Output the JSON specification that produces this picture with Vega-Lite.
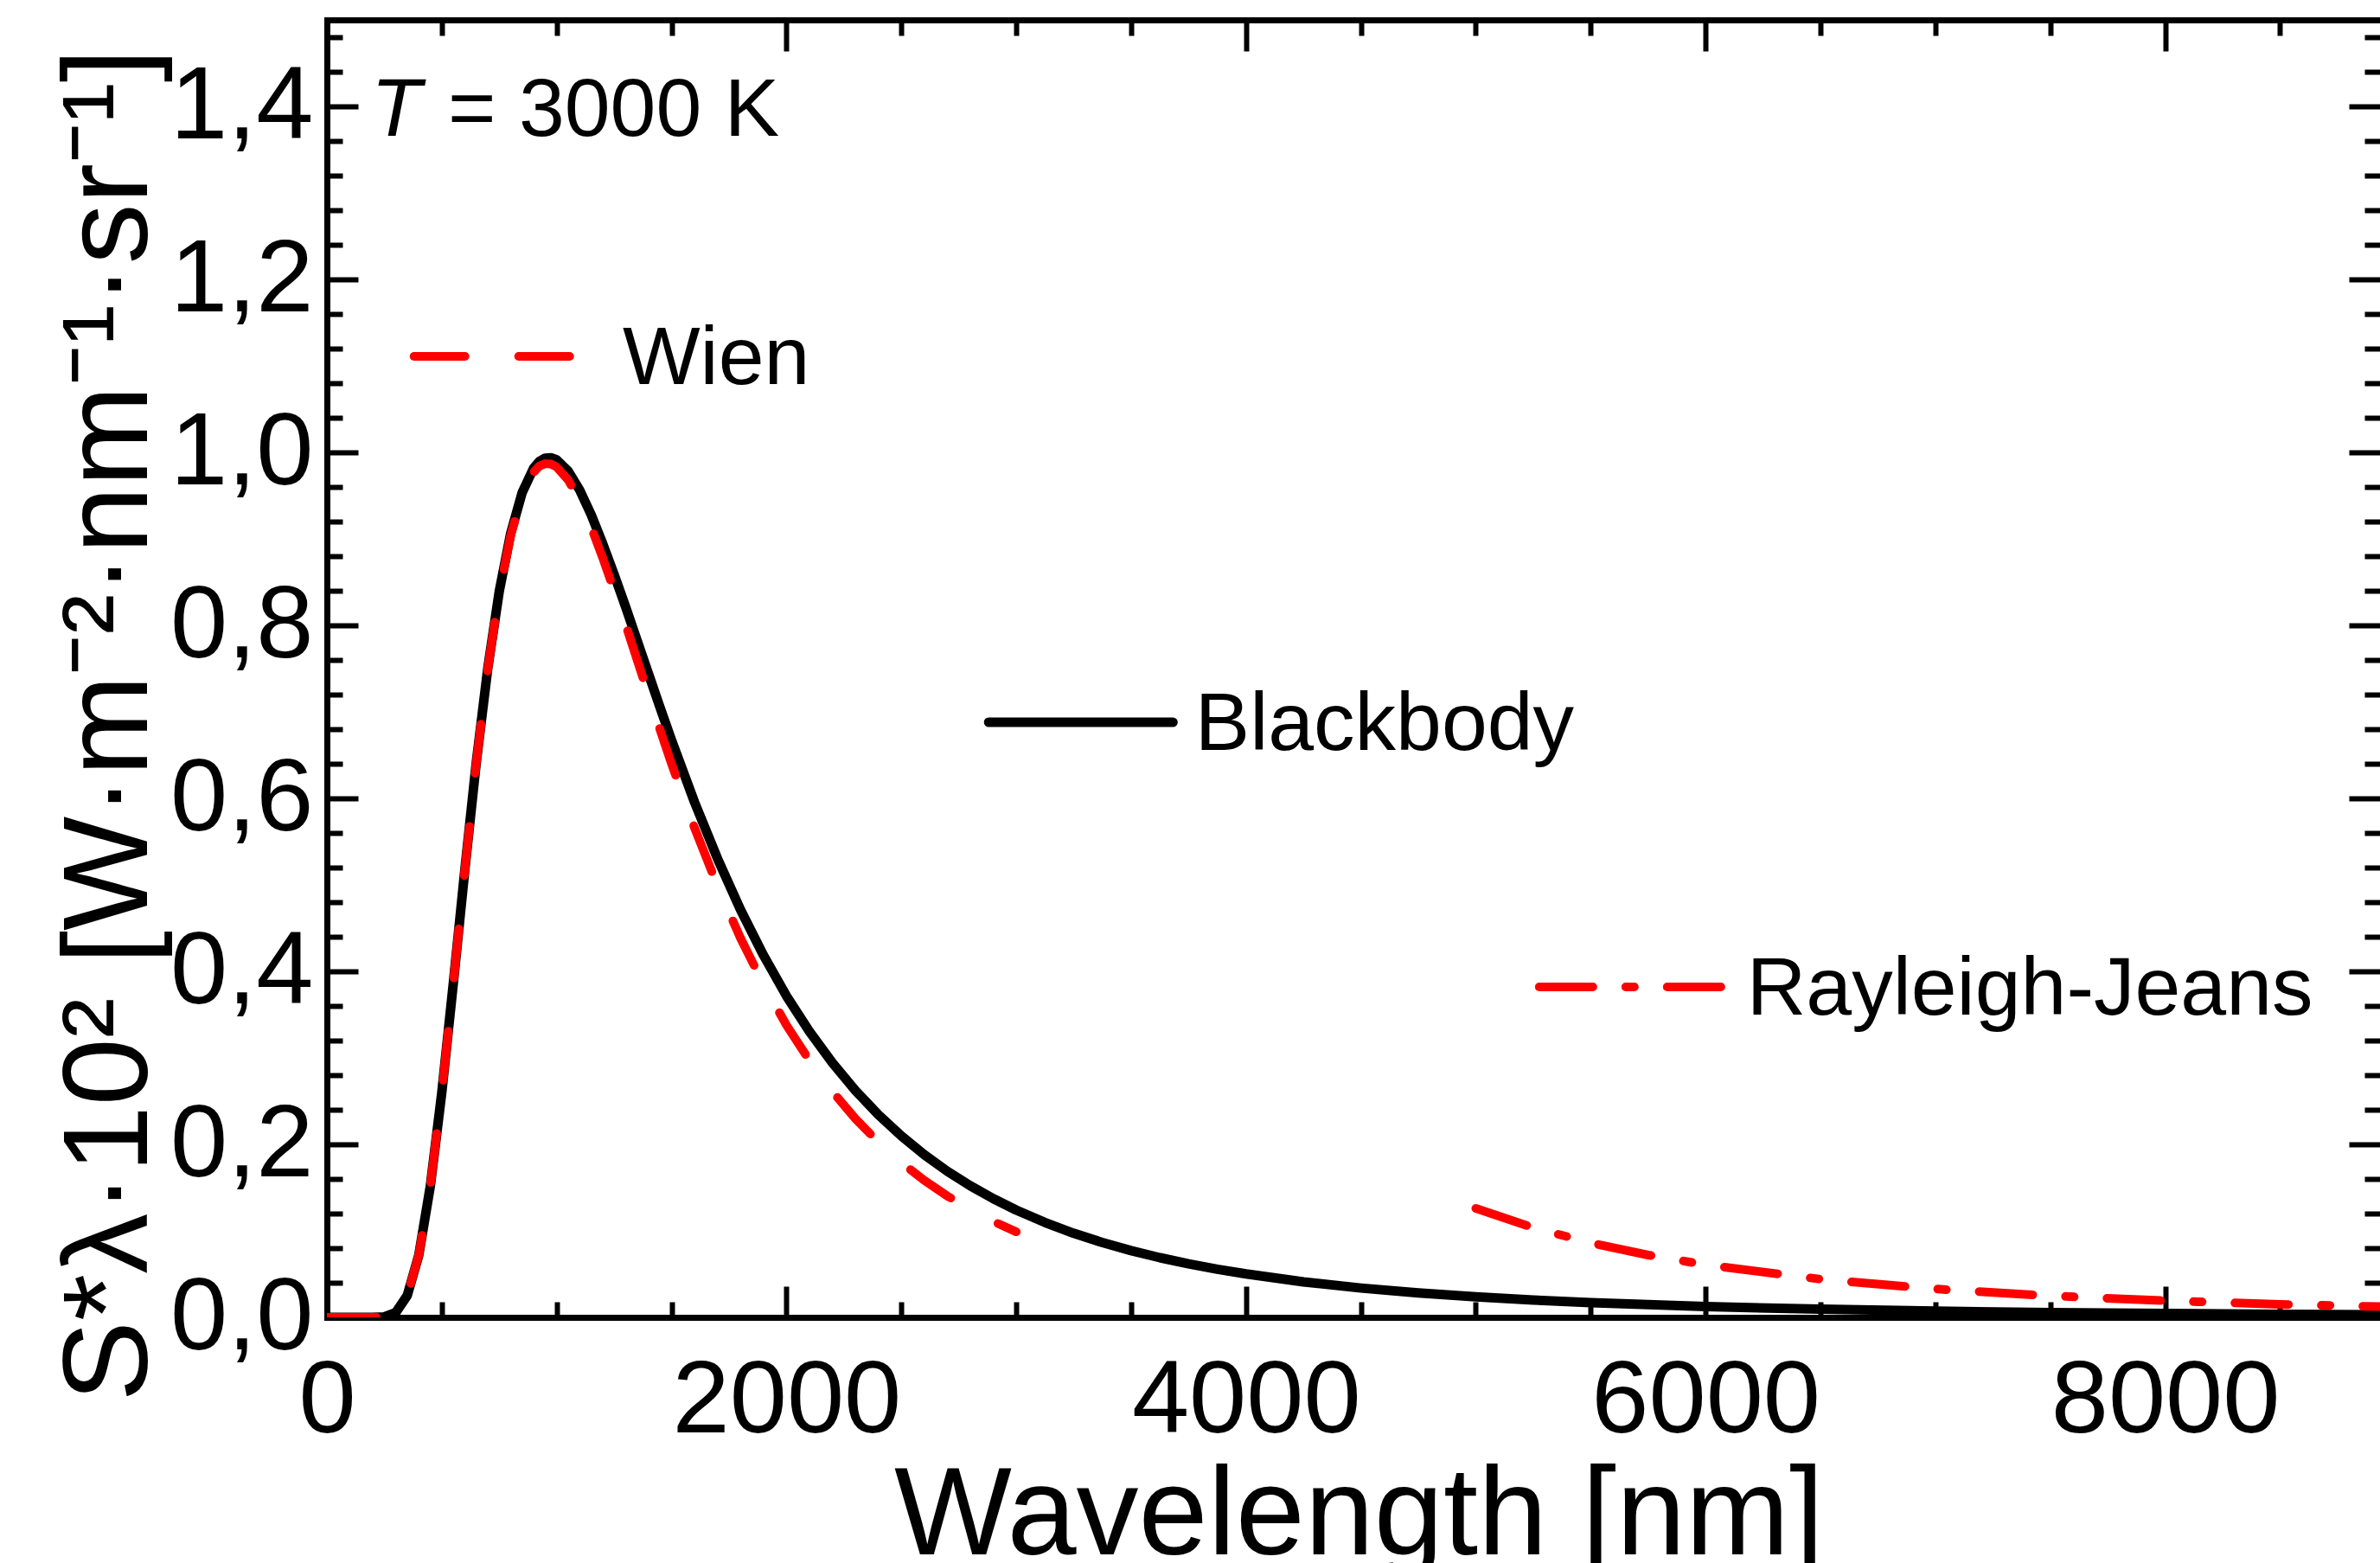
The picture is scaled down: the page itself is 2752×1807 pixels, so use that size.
{
  "$schema": "https://vega.github.io/schema/vega-lite/v6.json",
  "width": 2374,
  "height": 1500,
  "autosize": {"type": "none"},
  "padding": {"left": 378, "top": 23, "right": 0, "bottom": 284},
  "background": "white",
  "config": {
    "view": {"stroke": null},
    "font": "Liberation Sans",
    "axis": {
      "grid": false,
      "labelFont": "Liberation Sans",
      "titleFont": "Liberation Sans",
      "labelColor": "black",
      "titleColor": "black",
      "tickColor": "black",
      "domainColor": "black",
      "labelFlush": false,
      "labelOverlap": false,
      "labelLimit": 1000,
      "titleLimit": 3000,
      "tickWidth": 6,
      "domainWidth": 7,
      "domainCap": "square",
      "titleFontWeight": "normal",
      "labelFontSize": 119
    }
  },
  "datasets": {
    "bb": [
      {"wl": 0, "s": 0}, {"wl": 100, "s": 0}, {"wl": 200, "s": 0}, {"wl": 250, "s": 0.0006},
      {"wl": 300, "s": 0.0056}, {"wl": 350, "s": 0.0254}, {"wl": 400, "s": 0.0721}, {"wl": 450, "s": 0.1517},
      {"wl": 500, "s": 0.2599}, {"wl": 550, "s": 0.3859}, {"wl": 600, "s": 0.5167}, {"wl": 650, "s": 0.6414},
      {"wl": 700, "s": 0.7502}, {"wl": 750, "s": 0.8392}, {"wl": 800, "s": 0.9066}, {"wl": 850, "s": 0.9537},
      {"wl": 900, "s": 0.982}, {"wl": 925, "s": 0.9897}, {"wl": 950, "s": 0.9933}, {"wl": 975, "s": 0.9938},
      {"wl": 1000, "s": 0.9913}, {"wl": 1050, "s": 0.9783}, {"wl": 1100, "s": 0.9565}, {"wl": 1150, "s": 0.928},
      {"wl": 1200, "s": 0.8946}, {"wl": 1250, "s": 0.8589}, {"wl": 1300, "s": 0.8214}, {"wl": 1350, "s": 0.7825},
      {"wl": 1400, "s": 0.7436}, {"wl": 1450, "s": 0.705}, {"wl": 1500, "s": 0.6672}, {"wl": 1600, "s": 0.5955},
      {"wl": 1700, "s": 0.5303}, {"wl": 1800, "s": 0.4712}, {"wl": 1900, "s": 0.4186}, {"wl": 2000, "s": 0.3716},
      {"wl": 2100, "s": 0.3306}, {"wl": 2200, "s": 0.2942}, {"wl": 2300, "s": 0.2623}, {"wl": 2400, "s": 0.2343},
      {"wl": 2500, "s": 0.2097}, {"wl": 2600, "s": 0.188}, {"wl": 2700, "s": 0.1689}, {"wl": 2800, "s": 0.1521},
      {"wl": 2900, "s": 0.1372}, {"wl": 3000, "s": 0.124}, {"wl": 3125, "s": 0.1097}, {"wl": 3250, "s": 0.0972},
      {"wl": 3375, "s": 0.0865}, {"wl": 3500, "s": 0.0771}, {"wl": 3625, "s": 0.069}, {"wl": 3750, "s": 0.0619},
      {"wl": 3875, "s": 0.0556}, {"wl": 4000, "s": 0.0502}, {"wl": 4250, "s": 0.041}, {"wl": 4500, "s": 0.0339},
      {"wl": 4750, "s": 0.0282}, {"wl": 5000, "s": 0.0237}, {"wl": 5250, "s": 0.02}, {"wl": 5500, "s": 0.017},
      {"wl": 6000, "s": 0.0125}, {"wl": 6500, "s": 0.0094}, {"wl": 7000, "s": 0.0072}, {"wl": 7500, "s": 0.0056},
      {"wl": 8000, "s": 0.0044}, {"wl": 8500, "s": 0.0035}, {"wl": 9000, "s": 0.0029}
    ],
    "wien": [
      {"wl": 0, "s": 0}, {"wl": 100, "s": 0}, {"wl": 200, "s": 0}, {"wl": 250, "s": 0.0006},
      {"wl": 300, "s": 0.0056}, {"wl": 350, "s": 0.0254}, {"wl": 400, "s": 0.0721}, {"wl": 450, "s": 0.1517},
      {"wl": 500, "s": 0.2599}, {"wl": 550, "s": 0.3858}, {"wl": 600, "s": 0.5166}, {"wl": 650, "s": 0.641},
      {"wl": 700, "s": 0.7494}, {"wl": 750, "s": 0.8378}, {"wl": 800, "s": 0.9043}, {"wl": 850, "s": 0.9503},
      {"wl": 900, "s": 0.9772}, {"wl": 925, "s": 0.9842}, {"wl": 950, "s": 0.9869}, {"wl": 975, "s": 0.9865},
      {"wl": 1000, "s": 0.9831}, {"wl": 1050, "s": 0.9681}, {"wl": 1100, "s": 0.9443}, {"wl": 1150, "s": 0.9137},
      {"wl": 1200, "s": 0.8782}, {"wl": 1250, "s": 0.8404}, {"wl": 1300, "s": 0.8009}, {"wl": 1350, "s": 0.7601},
      {"wl": 1400, "s": 0.7194}, {"wl": 1450, "s": 0.6792}, {"wl": 1500, "s": 0.6399}, {"wl": 1600, "s": 0.5658},
      {"wl": 1700, "s": 0.4987}, {"wl": 1800, "s": 0.4384}, {"wl": 1900, "s": 0.3851}, {"wl": 2000, "s": 0.3378},
      {"wl": 2100, "s": 0.2969}, {"wl": 2200, "s": 0.261}, {"wl": 2300, "s": 0.2297}, {"wl": 2400, "s": 0.2025},
      {"wl": 2500, "s": 0.1789}, {"wl": 2600, "s": 0.1583}, {"wl": 2700, "s": 0.1403}, {"wl": 2800, "s": 0.1247},
      {"wl": 2900, "s": 0.111}, {"wl": 3000, "s": 0.0989}
    ],
    "rj": [
      {"wl": 5000, "s": 0.126}, {"wl": 5250, "s": 0.1037}, {"wl": 5500, "s": 0.0861}, {"wl": 5750, "s": 0.072},
      {"wl": 6000, "s": 0.0608}, {"wl": 6500, "s": 0.0441}, {"wl": 7000, "s": 0.0328}, {"wl": 7500, "s": 0.0249},
      {"wl": 8000, "s": 0.0192}, {"wl": 8500, "s": 0.0151}, {"wl": 9000, "s": 0.012}
    ],
    "leg_bb": [{"wl": 2880, "s": 0.688}, {"wl": 3682, "s": 0.688}],
    "leg_wien": [{"wl": 379, "s": 1.111}, {"wl": 1059, "s": 1.111}],
    "leg_rj": [{"wl": 5276, "s": 0.382}, {"wl": 6077, "s": 0.382}],
    "labels": [
      {"wl": 527, "s": 1.366, "text": "= 3000 K"},
      {"wl": 1287, "s": 1.079, "text": "Wien"},
      {"wl": 3778, "s": 0.656, "text": "Blackbody"},
      {"wl": 6179, "s": 0.35, "text": "Rayleigh-Jeans"}
    ],
    "italic": [{"wl": 192, "s": 1.366, "text": "T"}]
  },
  "resolve": {"axis": {"x": "independent", "y": "independent"}},
  "layer": [
    {
      "data": {"name": "bb"},
      "mark": {"type": "line", "color": "black", "strokeWidth": 11, "strokeJoin": "round", "clip": true},
      "encoding": {
        "x": {
          "field": "wl", "type": "quantitative",
          "scale": {"domain": [0, 8935], "nice": false, "zero": false},
          "axis": {
            "orient": "bottom", "values": [0, 2000, 4000, 6000, 8000], "format": "d",
            "ticks": false, "domain": true, "labelPadding": 38,
            "title": "Wavelength [nm]", "titleFontSize": 144,
            "titleX": 1193, "titleY": 273, "titleBaseline": "alphabetic", "titleAlign": "center", "titleAngle": 0
          }
        },
        "y": {
          "field": "s", "type": "quantitative",
          "scale": {"domain": [0, 1.5], "nice": false, "zero": false},
          "axis": {
            "orient": "left", "values": [0, 0.2, 0.4, 0.6, 0.8, 1.0, 1.2, 1.4],
            "labelExpr": "replace(format(datum.value, '.1f'), '.', ',')",
            "ticks": false, "domain": true, "labelPadding": 16,
            "title": "S*λ·10² [W·m⁻²·nm⁻¹·sr⁻¹]", "titleFontSize": 140,
            "titleX": -209, "titleY": 815, "titleBaseline": "alphabetic", "titleAlign": "center", "titleAngle": -90
          }
        }
      }
    },
    {
      "data": {"name": "wien"},
      "mark": {"type": "line", "color": "#ff0000", "strokeWidth": 10, "strokeCap": "round", "strokeDash": [57, 62], "clip": true},
      "encoding": {
        "x": {
          "field": "wl", "type": "quantitative",
          "scale": {"domain": [0, 8935], "nice": false, "zero": false},
          "axis": {"orient": "bottom", "values": [0, 2000, 4000, 6000, 8000], "labels": false, "domain": false, "ticks": true, "tickSize": -36, "title": null}
        },
        "y": {
          "field": "s", "type": "quantitative",
          "scale": {"domain": [0, 1.5], "nice": false, "zero": false},
          "axis": {"orient": "left", "values": [0, 0.2, 0.4, 0.6, 0.8, 1.0, 1.2, 1.4], "labels": false, "domain": false, "ticks": true, "tickSize": -36, "title": null}
        }
      }
    },
    {
      "data": {"name": "rj"},
      "mark": {"type": "line", "color": "#ff0000", "strokeWidth": 10, "strokeCap": "round", "strokeDash": [62, 38, 10, 38], "clip": true},
      "encoding": {
        "x": {
          "field": "wl", "type": "quantitative",
          "scale": {"domain": [0, 8935], "nice": false, "zero": false},
          "axis": {"orient": "bottom", "values": [500, 1000, 1500, 2500, 3000, 3500, 4500, 5000, 5500, 6500, 7000, 7500, 8500], "labels": false, "domain": false, "ticks": true, "tickSize": -18, "title": null}
        },
        "y": {
          "field": "s", "type": "quantitative",
          "scale": {"domain": [0, 1.5], "nice": false, "zero": false},
          "axis": {"orient": "left", "values": [0.04, 0.08, 0.12, 0.16, 0.24, 0.28, 0.32, 0.36, 0.44, 0.48, 0.52, 0.56, 0.64, 0.68, 0.72, 0.76, 0.84, 0.88, 0.92, 0.96, 1.04, 1.08, 1.12, 1.16, 1.24, 1.28, 1.32, 1.36, 1.44, 1.48], "labels": false, "domain": false, "ticks": true, "tickSize": -18, "title": null}
        }
      }
    },
    {
      "data": {"name": "leg_bb"},
      "mark": {"type": "line", "color": "black", "strokeWidth": 11, "strokeCap": "round"},
      "encoding": {
        "x": {
          "field": "wl", "type": "quantitative",
          "scale": {"domain": [0, 8935], "nice": false, "zero": false},
          "axis": {"orient": "top", "values": [0, 2000, 4000, 6000, 8000], "labels": false, "domain": true, "ticks": true, "tickSize": -36, "title": null}
        },
        "y": {
          "field": "s", "type": "quantitative",
          "scale": {"domain": [0, 1.5], "nice": false, "zero": false},
          "axis": {"orient": "right", "values": [0, 0.2, 0.4, 0.6, 0.8, 1.0, 1.2, 1.4], "labels": false, "domain": false, "ticks": true, "tickSize": -36, "title": null}
        }
      }
    },
    {
      "data": {"name": "leg_wien"},
      "mark": {"type": "line", "color": "#ff0000", "strokeWidth": 10, "strokeCap": "round", "strokeDash": [59, 62]},
      "encoding": {
        "x": {
          "field": "wl", "type": "quantitative",
          "scale": {"domain": [0, 8935], "nice": false, "zero": false},
          "axis": {"orient": "top", "values": [500, 1000, 1500, 2500, 3000, 3500, 4500, 5000, 5500, 6500, 7000, 7500, 8500], "labels": false, "domain": false, "ticks": true, "tickSize": -18, "title": null}
        },
        "y": {
          "field": "s", "type": "quantitative",
          "scale": {"domain": [0, 1.5], "nice": false, "zero": false},
          "axis": {"orient": "right", "values": [0.04, 0.08, 0.12, 0.16, 0.24, 0.28, 0.32, 0.36, 0.44, 0.48, 0.52, 0.56, 0.64, 0.68, 0.72, 0.76, 0.84, 0.88, 0.92, 0.96, 1.04, 1.08, 1.12, 1.16, 1.24, 1.28, 1.32, 1.36, 1.44, 1.48], "labels": false, "domain": false, "ticks": true, "tickSize": -18, "title": null}
        }
      }
    },
    {
      "data": {"name": "leg_rj"},
      "mark": {"type": "line", "color": "#ff0000", "strokeWidth": 10, "strokeCap": "round", "strokeDash": [62, 38, 10, 38]},
      "encoding": {
        "x": {"field": "wl", "type": "quantitative", "scale": {"domain": [0, 8935], "nice": false, "zero": false}, "axis": null},
        "y": {"field": "s", "type": "quantitative", "scale": {"domain": [0, 1.5], "nice": false, "zero": false}, "axis": null}
      }
    },
    {
      "data": {"name": "labels"},
      "mark": {"type": "text", "align": "left", "baseline": "alphabetic", "fontSize": 95, "font": "Liberation Sans", "color": "black"},
      "encoding": {
        "x": {"field": "wl", "type": "quantitative", "scale": {"domain": [0, 8935], "nice": false, "zero": false}, "axis": null},
        "y": {"field": "s", "type": "quantitative", "scale": {"domain": [0, 1.5], "nice": false, "zero": false}, "axis": null},
        "text": {"field": "text", "type": "nominal"}
      }
    },
    {
      "data": {"name": "italic"},
      "mark": {"type": "text", "align": "left", "baseline": "alphabetic", "fontSize": 95, "font": "Liberation Sans", "fontStyle": "italic", "color": "black"},
      "encoding": {
        "x": {"field": "wl", "type": "quantitative", "scale": {"domain": [0, 8935], "nice": false, "zero": false}, "axis": null},
        "y": {"field": "s", "type": "quantitative", "scale": {"domain": [0, 1.5], "nice": false, "zero": false}, "axis": null},
        "text": {"field": "text", "type": "nominal"}
      }
    }
  ]
}
